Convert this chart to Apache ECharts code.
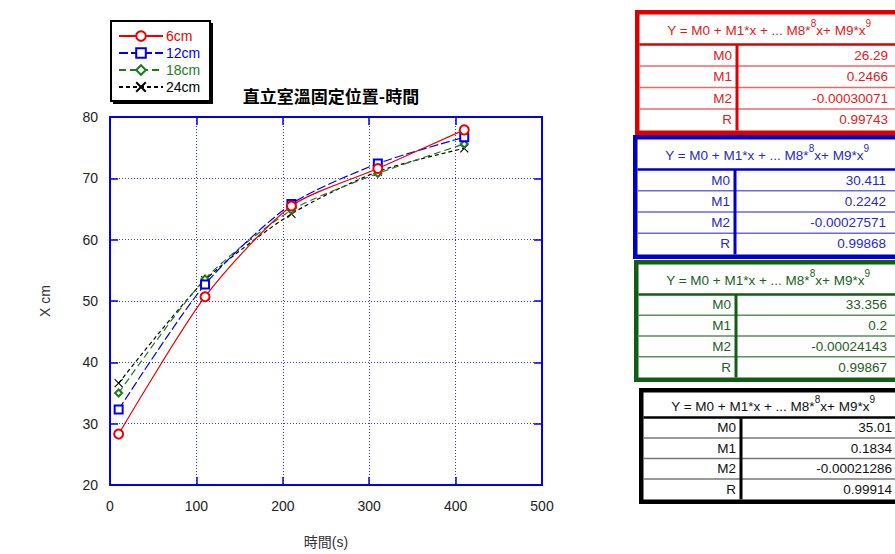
<!DOCTYPE html>
<html>
<head>
<meta charset="utf-8">
<script src="https://cdn.jsdelivr.net/npm/echarts@6/dist/echarts.min.js"></script>
<style>
html,body{margin:0;padding:0;background:#fff;}
#chart{width:895px;height:554px;}
</style>
</head>
<body>
<div id="chart"></div>
<script>
// ---- data ----
const xValues = [10, 110, 210, 310, 410];
const seriesNames = ['6cm', '12cm', '18cm', '24cm'];
const s6cm  = [28.3, 50.7, 65.5, 71.6, 77.9];
const s12cm = [32.3, 52.7, 65.8, 72.4, 76.7];
const s18cm = [35.0, 53.6, 64.8, 70.8, 75.6];
const s24cm = [36.6, 53.4, 64.2, 71.1, 74.9];
const xTicks = [0, 100, 200, 300, 400, 500];
const yTicks = [20, 30, 40, 50, 60, 70, 80];
const titleText = '直立室溫固定位置-時間';
const xName = '時間(s)';
const yName = 'X cm';
const coefLabels = ['M0', 'M1', 'M2', 'R'];
const coef6  = ['26.29', '0.2466', '-0.00030071', '0.99743'];
const coef12 = ['30.411', '0.2242', '-0.00027571', '0.99868'];
const coef18 = ['33.356', '0.2', '-0.00024143', '0.99867'];
const coef24 = ['35.01', '0.1834', '-0.00021286', '0.99914'];

const FONT = '"Liberation Sans", Arial, "Noto Sans CJK TC", sans-serif';
const seriesValues = [s6cm, s12cm, s18cm, s24cm];
const colors = ['#ee0000', '#0000ee', '#1e7a1e', '#000000'];
const dashes = ['solid', [9, 3], [7, 4], [4, 3]];
const symbols = ['emptyCircle', 'emptyRect', 'emptyDiamond', 'path://M0 0L10 10M10 0L0 10'];
const symSizes = [9, 8, 7, 8];

const series = seriesValues.map((vals, i) => ({
  name: seriesNames[i],
  type: 'line',
  data: xValues.map((x, j) => [x, vals[j]]),
  smooth: 0.25,
  symbol: symbols[i],
  symbolSize: symSizes[i],
  showSymbol: true,
  lineStyle: { color: colors[i], width: 1.2, type: dashes[i] },
  itemStyle: { color: colors[i], borderColor: colors[i], borderWidth: 1.1 },
  z: 10 - i
}));

// ---- tables ----
const tableCfgs = [
  { coefs: coef6,  x: 635, y: 10,  h: 125, hh: 30, border: '#dd0000', text: '#e02020', row: '#e86a6a' },
  { coefs: coef12, x: 633, y: 135, h: 124, hh: 30, border: '#0000c8', text: '#2a2ac0', row: '#6a6ae0' },
  { coefs: coef18, x: 634, y: 260, h: 122, hh: 30, border: '#145c14', text: '#1e5e1e', row: '#5a8f5a' },
  { coefs: coef24, x: 639, y: 388, h: 116, hh: 25, border: '#000000', text: '#111111', row: '#777777' }
];
const graphics = [];
// legend box
graphics.push({ type: 'rect', z: 1, shape: { x: 113, y: 23, width: 100, height: 81 }, style: { fill: '#000' } });
graphics.push({ type: 'rect', z: 2, shape: { x: 111, y: 21, width: 99, height: 80 }, style: { fill: '#fff', stroke: '#000', lineWidth: 2 } });

tableCfgs.forEach(t => {
  const bw = 4.5;
  const right = 905;
  graphics.push({ type: 'rect', z: 1, shape: { x: t.x + bw / 2, y: t.y + bw / 2, width: right - t.x, height: t.h - bw },
    style: { fill: '#fff', stroke: t.border, lineWidth: bw } });
  const innerTop = t.y + bw;
  const hb = innerTop + t.hh;
  const rowH = (t.h - 2 * bw - t.hh) / 4;
  graphics.push({ type: 'line', z: 3, shape: { x1: t.x + bw, y1: hb, x2: right, y2: hb }, style: { stroke: t.border, lineWidth: 2.5 } });
  for (let k = 1; k < 4; k++) {
    const yy = hb + rowH * k;
    graphics.push({ type: 'line', z: 2, shape: { x1: t.x + bw, y1: yy, x2: right, y2: yy }, style: { stroke: t.row, lineWidth: 1.5 } });
  }
  const dx = t.x + 102;
  graphics.push({ type: 'line', z: 3, shape: { x1: dx, y1: hb, x2: dx, y2: t.y + t.h - bw }, style: { stroke: t.border, lineWidth: 3 } });
  graphics.push({ type: 'text', z: 4, x: t.x + 134, y: innerTop + t.hh / 2 + 1,
    style: {
      text: '{n|Y = M0 + M1*x + ... M8*}{s|8}{n|x+ M9*x}{s|9}',
      fill: t.text, align: 'center', verticalAlign: 'middle',
      rich: {
        n: { fontSize: 13.5, fontFamily: FONT, fill: t.text, lineHeight: 24 },
        s: { fontSize: 10, fontFamily: FONT, fill: t.text, lineHeight: 10, verticalAlign: 'top' }
      }
    } });
  coefLabels.forEach((lab, k) => {
    const cy = hb + rowH * (k + 0.5);
    graphics.push({ type: 'text', z: 4, x: t.x + 97, y: cy, style: { text: lab, fill: t.text, font: '13.5px ' + FONT, align: 'right', verticalAlign: 'middle' } });
    graphics.push({ type: 'text', z: 4, x: t.x + 253, y: cy, style: { text: t.coefs[k], fill: t.text, font: '13.5px ' + FONT, align: 'right', verticalAlign: 'middle' } });
  });
});

const blue = '#0000ee';
const axisCommon = {
  axisLine: { show: true, onZero: false, lineStyle: { color: blue, width: 2 } },
  axisTick: { show: true, inside: true, length: 8, lineStyle: { color: blue, width: 1.5 } },
  splitLine: { show: false }
};

const option = {
  animation: false,
  backgroundColor: '#fff',
  textStyle: { fontFamily: FONT },
  title: {
    text: titleText, left: 326, top: 82, textAlign: 'center',
    textStyle: { fontSize: 17, fontWeight: 'bold', color: '#000', fontFamily: '"Noto Sans CJK TC", sans-serif' }
  },
  legend: {
    orient: 'vertical', left: 118, top: 29, padding: 0,
    itemWidth: 44, itemHeight: 12, itemGap: 3,
    data: seriesNames.map((n, i) => ({ name: n, textStyle: { color: colors[i] } })),
    textStyle: { fontSize: 14, fontFamily: FONT, padding: [0, 0, 0, -2] },
    z: 5
  },
  grid: { left: 110, right: 353, top: 117, bottom: 64, containLabel: false },
  xAxis: [
    Object.assign({
      type: 'value', min: 0, max: 500, interval: 100,
      name: xName, nameLocation: 'middle', nameGap: 50,
      nameTextStyle: { fontSize: 14, color: '#333', fontFamily: FONT },
      axisLabel: { fontSize: 14, color: '#222', margin: 14, fontFamily: FONT }
    }, axisCommon, { splitLine: { show: true, lineStyle: { color: '#3333ff', type: [1, 2], width: 1 } } }),
    Object.assign({ type: 'value', position: 'top', min: 0, max: 500, interval: 100, axisLabel: { show: false } }, axisCommon)
  ],
  yAxis: [
    Object.assign({
      type: 'value', min: 20, max: 80, interval: 10,
      name: yName, nameLocation: 'middle', nameGap: 58, nameRotate: 90,
      nameTextStyle: { fontSize: 14, color: '#333', fontFamily: FONT },
      axisLabel: { fontSize: 14, color: '#222', margin: 12, fontFamily: FONT }
    }, axisCommon, { splitLine: { show: true, lineStyle: { color: '#3333ff', type: [1, 2], width: 1 } } }),
    Object.assign({ type: 'value', position: 'right', min: 20, max: 80, interval: 10, axisLabel: { show: false } }, axisCommon)
  ],
  graphic: graphics,
  series: series
};

const chart = echarts.init(document.getElementById('chart'), null, { renderer: 'svg' });
chart.setOption(option);
</script>
</body>
</html>
